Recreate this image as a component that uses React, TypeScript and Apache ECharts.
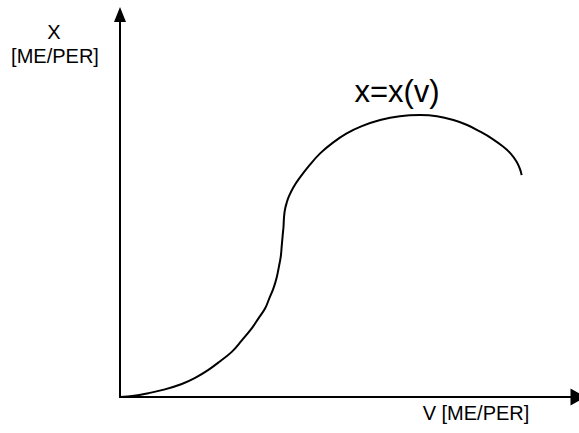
import React, { useEffect, useRef } from "react";
import * as echarts from "echarts";

// Curve x = x(v) (v on horizontal axis, x on vertical axis; axis ends = 100)
const vValues = [
  0, 3.1, 6.2, 9.8, 13.5, 16.4, 19.3, 21.8, 24.4, 26.6, 28.8, 30.2, 31.7, 32.6, 33.5, 34.2, 34.7, 35.1, 35.3, 35.5,
  35.7, 35.8, 36.0, 36.4, 36.9, 37.9, 39.1, 41.3, 43.7, 46.5, 49.5, 52.8, 56.8, 61.1, 65.5, 69.2, 72.8, 75.8, 78.6,
  81.3, 83.7, 85.4, 86.6, 87.3, 87.7,
];
const xValues = [
  0, 0.3, 1.0, 2.0, 3.4, 5.0, 7.1, 9.3, 11.8, 14.8, 18.0, 20.5, 23.2, 25.8, 28.4, 31.2, 34.1, 36.7, 39.3, 42.0,
  44.5, 46.8, 48.9, 50.8, 52.5, 54.9, 57.1, 60.5, 63.7, 66.5, 68.9, 70.8, 72.4, 73.4, 73.7, 73.4, 72.4, 71.1, 69.4,
  67.5, 65.4, 63.5, 61.5, 59.7, 58.0,
];

const yAxisTitle = ["X", "[ME/PER]"];
const xAxisTitle = "V [ME/PER]";
const curveLabel = "x=x(v)";

const FONT = "'Liberation Sans', Arial, sans-serif";

export default function App() {
  const ref = useRef<HTMLDivElement>(null);
  useEffect(() => {
    if (!ref.current) return;
    const chart = echarts.init(ref.current, null, { renderer: "svg" });
    const axisCommon = {
      type: "value" as const,
      min: 0,
      max: 100,
      axisTick: { show: false },
      axisLabel: { show: false },
      splitLine: { show: false },
    };
    chart.setOption({
      animation: false,
      backgroundColor: "#fff",
      grid: { left: 120, right: 1, top: 14.5, bottom: 36 },
      xAxis: {
        ...axisCommon,
        axisLine: {
          show: true,
          symbol: ["none", "triangle"],
          symbolSize: [17, 15],
          lineStyle: { color: "#000", width: 2 },
        },
      },
      yAxis: {
        ...axisCommon,
        axisLine: {
          show: true,
          symbol: ["none", "triangle"],
          symbolSize: [12, 15],
          lineStyle: { color: "#000", width: 2 },
        },
      },
      series: [
        {
          type: "line",
          data: vValues.map((v, i) => [v, xValues[i]]),
          showSymbol: false,
          smooth: 0.4,
          clip: false,
          lineStyle: { color: "#000", width: 2 },
        },
      ],
      graphic: [
        {
          type: "text",
          x: 54,
          y: 32,
          style: { text: yAxisTitle[0], font: `20px ${FONT}`, fill: "#000", align: "center", verticalAlign: "middle" },
        },
        {
          type: "text",
          x: 55,
          y: 56,
          style: { text: yAxisTitle[1], font: `20px ${FONT}`, fill: "#000", align: "center", verticalAlign: "middle" },
        },
        {
          type: "text",
          x: 476,
          y: 413,
          style: { text: xAxisTitle, font: `20px ${FONT}`, fill: "#000", align: "center", verticalAlign: "middle" },
        },
        {
          type: "text",
          x: 397,
          y: 91,
          style: { text: curveLabel, font: `31px ${FONT}`, fill: "#000", align: "center", verticalAlign: "middle" },
        },
      ],
    });
    return () => chart.dispose();
  }, []);
  return (
    <div
      ref={ref}
      style={{ position: "fixed", left: 0, top: 0, width: 579, height: 433, background: "#fff" }}
    />
  );
}
